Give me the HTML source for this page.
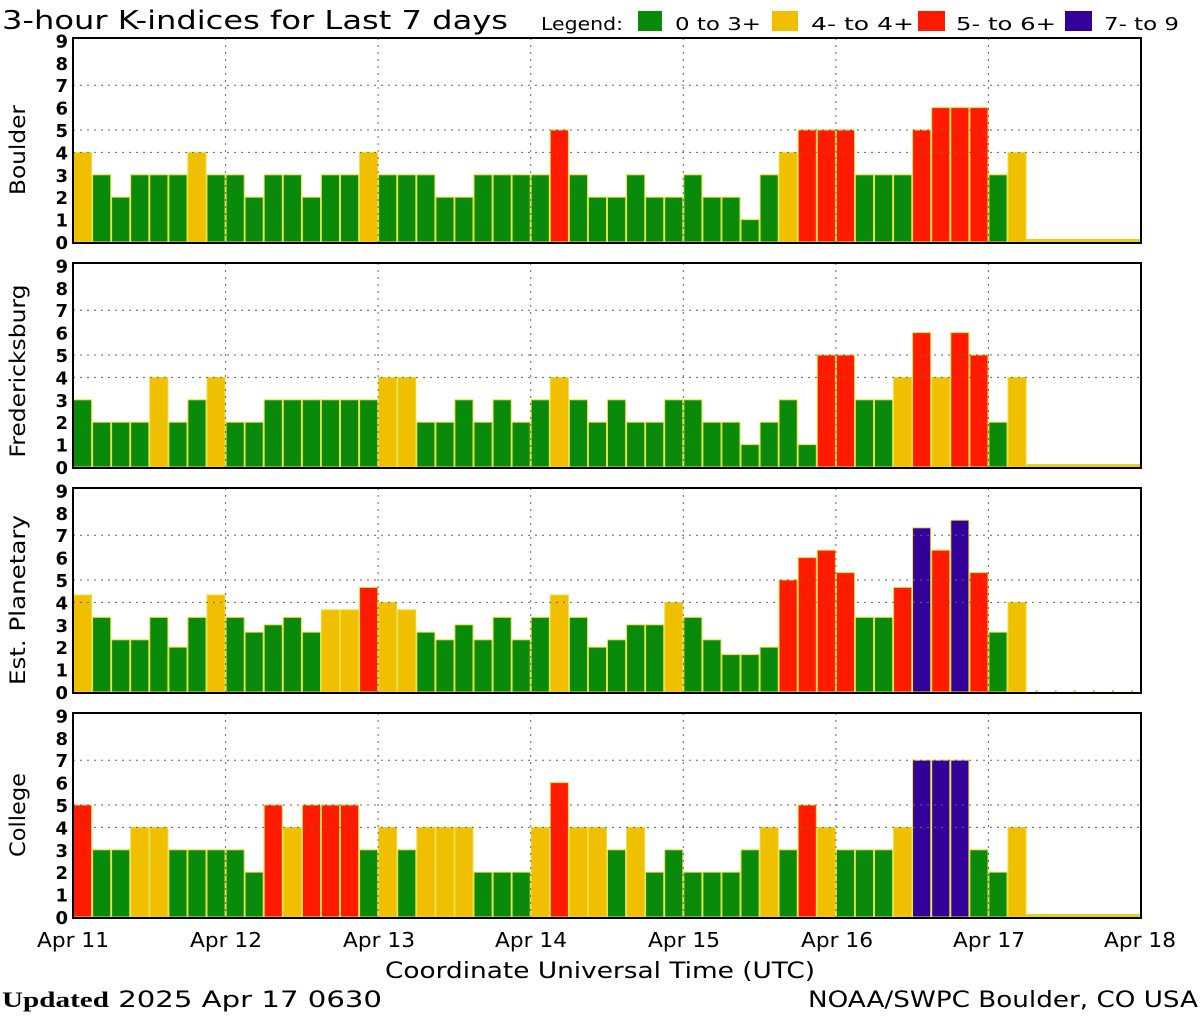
<!DOCTYPE html>
<html><head><meta charset="utf-8"><style>
body{margin:0;background:#fff;width:1200px;height:1020px;overflow:hidden}
svg{display:block}
text{font-family:"DejaVu Sans","Liberation Sans",sans-serif;fill:#000}
</style></head><body>
<svg id="s" width="1200" height="1020" xmlns="http://www.w3.org/2000/svg">
<text x="2" y="29" font-size="26" textLength="506" lengthAdjust="spacingAndGlyphs">3-hour K-indices for Last 7 days</text>
<text x="541" y="30" font-size="18" textLength="82" lengthAdjust="spacingAndGlyphs">Legend:</text>
<rect x="638" y="11" width="24" height="20" fill="#0a8a0a"/>
<text x="675" y="30" font-size="18" textLength="86" lengthAdjust="spacingAndGlyphs">0 to 3+</text>
<rect x="772" y="11" width="26" height="20" fill="#f0c000"/>
<text x="811" y="30" font-size="18" textLength="103" lengthAdjust="spacingAndGlyphs">4- to 4+</text>
<rect x="918" y="11" width="27" height="20" fill="#ff1a00"/>
<text x="956" y="30" font-size="18" textLength="100" lengthAdjust="spacingAndGlyphs">5- to 6+</text>
<rect x="1065" y="11" width="27" height="20" fill="#330099"/>
<text x="1104" y="30" font-size="18" textLength="75" lengthAdjust="spacingAndGlyphs">7- to 9</text>
<text transform="translate(25,150) rotate(-90)" font-size="21" text-anchor="middle" textLength="90" lengthAdjust="spacingAndGlyphs">Boulder</text>
<text transform="translate(25,371) rotate(-90)" font-size="21" text-anchor="middle" textLength="173" lengthAdjust="spacingAndGlyphs">Fredericksburg</text>
<text transform="translate(25,600) rotate(-90)" font-size="21" text-anchor="middle" textLength="170" lengthAdjust="spacingAndGlyphs">Est. Planetary</text>
<text transform="translate(25,815) rotate(-90)" font-size="21" text-anchor="middle" textLength="84" lengthAdjust="spacingAndGlyphs">College</text>
<g font-size="20" text-anchor="middle">
<text x="73" y="947" textLength="72" lengthAdjust="spacingAndGlyphs">Apr 11</text><text x="226" y="947" textLength="72" lengthAdjust="spacingAndGlyphs">Apr 12</text><text x="379" y="947" textLength="72" lengthAdjust="spacingAndGlyphs">Apr 13</text><text x="531" y="947" textLength="72" lengthAdjust="spacingAndGlyphs">Apr 14</text><text x="684" y="947" textLength="72" lengthAdjust="spacingAndGlyphs">Apr 15</text><text x="837" y="947" textLength="72" lengthAdjust="spacingAndGlyphs">Apr 16</text><text x="989" y="947" textLength="72" lengthAdjust="spacingAndGlyphs">Apr 17</text><text x="1140" y="947" textLength="72" lengthAdjust="spacingAndGlyphs">Apr 18</text>
</g>
<text x="385" y="978" font-size="22" textLength="430" lengthAdjust="spacingAndGlyphs">Coordinate Universal Time (UTC)</text>
<text x="2" y="1007" font-size="22" textLength="380" lengthAdjust="spacingAndGlyphs"><tspan font-family="Liberation Serif" font-weight="bold">Updated</tspan> 2025 Apr 17 0630</text>
<text x="808" y="1007" font-size="22" textLength="390" lengthAdjust="spacingAndGlyphs">NOAA/SWPC Boulder, CO USA</text>
<g id="g"></g>
</svg>
<script>
var D=[
[4,3,2,3,3,3,4,3, 3,2,3,3,2,3,3,4, 3,3,3,2,2,3,3,3, 3,5,3,2,2,3,2,2, 3,2,2,1,3,4,5,5, 5,3,3,3,5,6,6,6, 3,4],
[3,2,2,2,4,2,3,4, 2,2,3,3,3,3,3,3, 4,4,2,2,3,2,3,2, 3,4,3,2,3,2,2,3, 3,2,2,1,2,3,1,5, 5,3,3,4,6,4,6,5, 2,4],
[4.33,3.33,2.33,2.33,3.33,2,3.33,4.33, 3.33,2.67,3,3.33,2.67,3.67,3.67,4.67, 4,3.67,2.67,2.33,3,2.33,3.33,2.33, 3.33,4.33,3.33,2,2.33,3,3,4, 3.33,2.33,1.67,1.67,2,5,6,6.33, 5.33,3.33,3.33,4.67,7.33,6.33,7.67,5.33, 2.67,4],
[5,3,3,4,4,3,3,3, 3,2,5,4,5,5,5,3, 4,3,4,4,4,2,2,2, 4,6,4,4,3,4,2,3, 2,2,2,3,4,3,5,4, 3,3,3,4,7,7,7,3, 2,4]];
var h='',L=73,R=1141,W=(R-L)/56;
function col(v){v=Math.round(v*3)/3;return v>=6.66?'#330099':v>=4.66?'#ff1a00':v>=3.66?'#f0c000':'#0a8a0a';}
for(var p=0;p<4;p++){
 var T=38+p*225,B=T+205,Z=B-1,U=22.4;
 for(var i=0;i<D[p].length;i++){var v=D[p][i],x=L+i*W,y=Z-v*U;
  h+='<rect x="'+(x+0.5).toFixed(1)+'" y="'+y.toFixed(1)+'" width="'+(W-1).toFixed(1)+'" height="'+(v*U).toFixed(1)+'" fill="'+col(v)+'" stroke="#e6e040" stroke-width="1"/>';}
 var x0=L+D[p].length*W;
 if(p!=2)h+='<rect x="'+x0+'" y="'+(Z-3)+'" width="'+(R-x0)+'" height="3" fill="#e6d020"/>';
 else for(var k=0;k<6;k++)h+='<rect x="'+(x0+k*W+9)+'" y="'+(Z-2)+'" width="2" height="2" fill="#e6c020"/>';
 [4,5,7].forEach(function(l){var y=Z-l*U;h+='<line x1="'+L+'" x2="'+R+'" y1="'+y+'" y2="'+y+'" stroke="#666" stroke-dasharray="2,5"/>';});
 for(var d=1;d<7;d++){var x=L+d*8*W;h+='<line x1="'+x+'" x2="'+x+'" y1="'+T+'" y2="'+B+'" stroke="#666" stroke-dasharray="2,5"/>';}
 h+='<rect x="'+L+'" y="'+T+'" width="'+(R-L)+'" height="'+(B-T)+'" fill="none" stroke="#000" stroke-width="2"/>';
 for(var l=0;l<=9;l++)h+='<text x="68" y="'+(Z-l*U+7)+'" font-size="18" text-anchor="end" font-weight="bold" transform="" >'+l+'</text>';
}
document.getElementById('g').innerHTML=h;
</script>
</body></html>
